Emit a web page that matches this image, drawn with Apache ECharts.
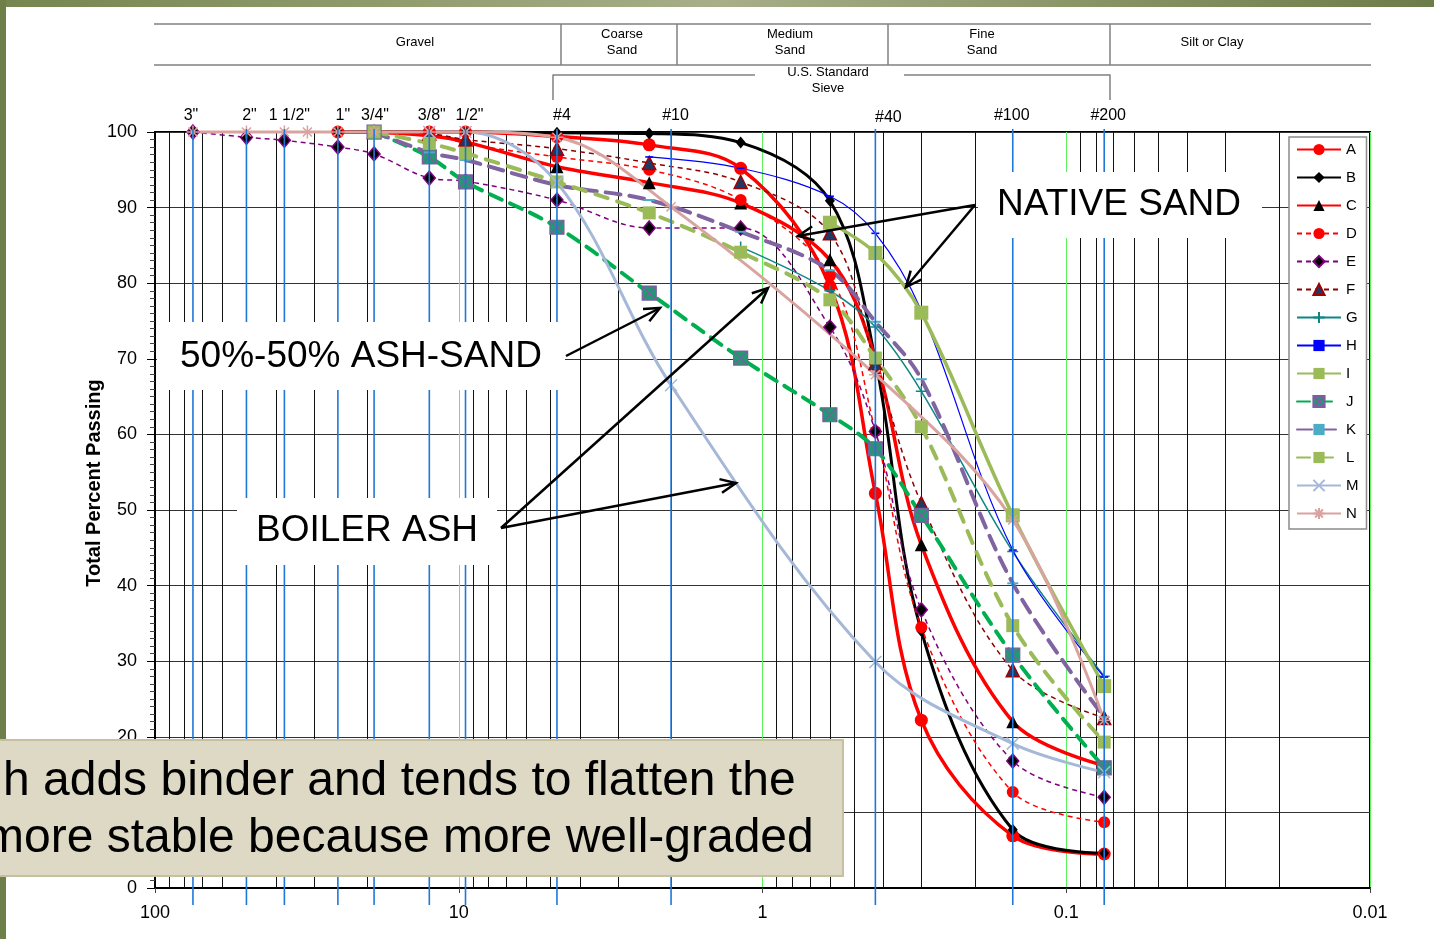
<!DOCTYPE html>
<html>
<head>
<meta charset="utf-8">
<script src="https://cdn.jsdelivr.net/npm/echarts@6/dist/echarts.min.js"></script>
<style>
  html, body { margin: 0; padding: 0; background: #fff; }
  #chart { width: 1434px; height: 939px; }
</style>
</head>
<body>
<div id="chart"></div>
<script>
const FONT = '"Liberation Sans", Arial, sans-serif';

// Sieve openings (mm) at which percent passing was measured
const sieveSizes = [75, 50, 37.5, 31.5, 25, 19, 12.5, 9.5, 4.75, 2.36, 2.0, 1.18, 0.6, 0.425, 0.3, 0.15, 0.075];

// Percent passing for each sample (null = not measured at that sieve)
const valuesA = [null, null, null, null, 100, 100, 100, 100, 99.4, 98.3, null, 95.2, 79.6, 52.2, 22.2, 6.9, 4.5];
const valuesB = [null, null, null, null, 100, 100, 100, 100, 99.9, 99.8, null, 98.6, 90.9, 69.8, 34.0, 7.7, 4.6];
const valuesC = [null, null, null, null, null, 100, 99.5, 98.7, 95.4, 93.3, null, 90.6, 83.1, 70.0, 45.4, 22.0, 16.2];
const valuesD = [null, null, null, null, null, null, 100, 98.5, 96.7, 95.0, null, 91.0, 81.0, 60.4, 34.5, 12.7, 8.7];
const valuesE = [100, 99.3, 98.9, null, 98.0, 97.1, 93.9, 93.5, 91.0, 87.3, null, 87.3, 74.2, 60.4, 36.8, 16.8, 12.0];
const valuesF = [null, null, null, null, null, 100, 99.8, 99.0, 97.8, 95.9, null, 93.4, 86.6, 69.4, 50.9, 28.8, 22.5];
const valuesG = [null, null, null, null, null, null, null, null, null, null, null, 84.8, 79.0, 74.2, 65.7, 44.5, 28.0];
const valuesH = [null, null, null, null, null, null, null, null, null, 96.7, null, 95.2, 91.5, 86.6, 76.4, 44.7, 27.9];
const valuesI = [null, null, null, null, null, null, null, null, null, null, null, null, 88.0, 84.0, 76.1, 49.3, 26.7];
const valuesJ = [null, null, null, null, null, 100, 96.7, 93.4, 87.4, 78.7, null, 70.1, 62.6, 58.1, 49.3, 30.8, 15.9];
const valuesK = [null, null, null, null, null, 100, 97.3, 96.3, 93.0, 91.0, null, 86.8, 81.7, 74.9, 67.3, 40.3, 22.6];
const valuesL = [null, null, null, null, null, 100, 98.5, 97.2, 93.4, 89.3, null, 84.1, 77.8, 70.1, 61.0, 34.7, 19.3];
const valuesM = [null, null, null, null, null, null, 100, 100, 93.3, null, 66.5, null, null, 29.9, null, 19.1, 15.3];
const valuesN = [100, 100, 100, 100, 100, 100, 100, 100, 99.3, null, 90.1, null, null, 67.9, null, 48.7, 22.2];

const seriesNames = ['A', 'B', 'C', 'D', 'E', 'F', 'G', 'H', 'I', 'J', 'K', 'L', 'M', 'N'];
const seriesValues = [valuesA, valuesB, valuesC, valuesD, valuesE, valuesF, valuesG,
                      valuesH, valuesI, valuesJ, valuesK, valuesL, valuesM, valuesN];

// Standard sieves drawn as vertical reference lines, labelled along the top
const standardSieveSizes = [75, 50, 37.5, 25, 19, 12.5, 9.5, 4.75, 2.0, 0.425, 0.15, 0.075];
const standardSieveLabels = ['3"', '2"', '1 1/2"', '1"', '3/4"', '3/8"', '1/2"', '#4', '#10', '#40', '#100', '#200'];

// Axis tick labels
const xTickLabels = ['100', '10', '1', '0.1', '0.01'];   // 10^2 .. 10^-2
const yAxisTitle = 'Total Percent Passing';

// Soil classification header
const bandLabels = [['Gravel'], ['Coarse', 'Sand'], ['Medium', 'Sand'], ['Fine', 'Sand'], ['Silt or Clay']];

// ---- marker shapes ----
const PLUS = 'path://M5,0L5,10M0,5L10,5';
const XMARK = 'path://M0,0L10,10M10,0L0,10';
const STAR = 'path://M5,0L5,10M0,5L10,5M1.5,1.5L8.5,8.5M8.5,1.5L1.5,8.5';
const BOXX = 'path://M0,0L10,0L10,10L0,10ZM0,0L10,10M10,0L0,10';
const DASH = 'path://M0,0L10,0L10,4L0,4Z';

const curveStyles = {
  A: { color: '#ff0000', width: 3.5, symbol: 'circle', size: 13, fill: '#ff0000' },
  B: { color: '#000000', width: 3, symbol: 'diamond', size: [10, 12], fill: '#000000' },
  C: { color: '#ff0000', width: 3.5, symbol: 'triangle', size: 13, fill: '#000000' },
  D: { color: '#ff0000', width: 1.5, dash: [5, 4], symbol: 'circle', size: 12, fill: '#ff0000' },
  E: { color: '#800080', width: 1.5, dash: [5, 4], symbol: 'diamond', size: [12, 14], fill: '#000000', border: '#800080', bw: 1.5 },
  F: { color: '#8b0000', width: 1.5, dash: [5, 4], symbol: 'triangle', size: 13, fill: '#1f3864', border: '#a00000', bw: 1.5 },
  G: { color: '#108585', width: 1.5, symbol: PLUS, size: 11, fill: '#108585', border: '#108585', bw: 1.5 },
  H: { color: '#0000ff', width: 1.2, symbol: DASH, size: [8, 4], fill: '#0000ff', keep: true },
  I: { color: '#9bbb59', width: 3.5, symbol: 'rect', size: 14, fill: '#9bbb59' },
  J: { color: '#00b050', width: 4, dash: [13, 9], symbol: BOXX, size: 14, fill: '#1f9a72', border: '#7a5ea0', bw: 1.2 },
  K: { color: '#8064a2', width: 4, dash: [15, 9], symbol: DASH, size: [11, 5], fill: '#4bacc6', keep: true },
  L: { color: '#9bbb59', width: 4, dash: [13, 10], symbol: 'rect', size: 13, fill: '#9bbb59' },
  M: { color: '#a5b8d8', width: 3, symbol: XMARK, size: 12, fill: '#a5b8d8', border: '#a5b8d8', bw: 1.5 },
  N: { color: '#d9a3a0', width: 3, symbol: STAR, size: 13, fill: '#d9a3a0', border: '#d9a3a0', bw: 1.5 }
};

// ---- log-grid helper values (2..9 within each decade) ----
const minorGridValues = [];
[10, 1, 0.1, 0.01].forEach(d => { for (let k = 2; k <= 9; k++) minorGridValues.push(k * d); });

function crisp(v) { return Math.round(v) + 0.5; }

const curveSeries = seriesNames.map((name, i) => {
  const st = curveStyles[name];
  const data = [];
  sieveSizes.forEach((s, j) => { if (seriesValues[i][j] !== null) data.push([s, seriesValues[i][j]]); });
  return {
    name, type: 'line', data, z: 3, clip: false, smooth: 0.35, silent: true,
    symbol: st.symbol, symbolSize: st.size, showAllSymbol: true, symbolKeepAspect: !!st.keep,
    lineStyle: { color: st.color, width: st.width, type: st.dash || 'solid', cap: st.dash && st.width > 3 ? 'round' : 'butt' },
    itemStyle: { color: st.fill, borderColor: st.border || st.fill, borderWidth: st.bw || 0, opacity: 1 },
    emphasis: { disabled: true }
  };
});

const minorGridSeries = {
  type: 'custom', z: 1, silent: true, clip: false,
  data: minorGridValues.map(v => [v, 0]),
  renderItem(params, api) {
    const x = crisp(api.coord([api.value(0), 0])[0]);
    const y1 = api.coord([api.value(0), 100])[1];
    const y2 = api.coord([api.value(0), 0])[1];
    return { type: 'line', shape: { x1: x, y1, x2: x, y2 }, style: { stroke: '#111', lineWidth: 1 } };
  }
};

// horizontal nudge of each sieve caption relative to its line
const sieveLabelShift = { '3"': -2, '2"': 3, '1 1/2"': 5, '1"': 5, '3/4"': 1, '3/8"': 2.5, '1/2"': 4,
                          '#4': 5, '#10': 4.5, '#40': 13, '#100': -1, '#200': 4 };
const sieveSeries = {
  type: 'custom', z: 5, silent: true, clip: false,
  data: standardSieveSizes.map(v => [v, 0]),
  renderItem(params, api) {
    const x = api.coord([api.value(0), 0])[0];
    const top = api.coord([api.value(0), 100])[1];
    const bottom = api.coord([api.value(0), 0])[1];
    const label = standardSieveLabels[params.dataIndex];
    return {
      type: 'group',
      children: [
        { type: 'line', shape: { x1: x, y1: top - 3, x2: x, y2: bottom + 17 }, style: { stroke: '#1f78d8', lineWidth: 1.6 } },
        { type: 'text', x: x + sieveLabelShift[label], y: top - 16 + (label === '#40' ? 2 : 0),
          style: { text: label, font: '16px ' + FONT, fill: '#000', textAlign: 'center', textVerticalAlign: 'middle' } }
      ]
    };
  }
};

const chart = echarts.init(document.getElementById('chart'), null, { renderer: 'canvas' });

function textEl(text, x, y, font, align, extra) {
  return Object.assign({
    type: 'text', x, y, z: 60,
    style: { text, font: font + ' ' + FONT, fill: '#000', textAlign: align || 'center', textVerticalAlign: 'middle' }
  }, extra || {});
}
function lineEl(x1, y1, x2, y2, color, w, z) {
  return { type: 'line', z: z || 60, shape: { x1, y1, x2, y2 }, style: { stroke: color, lineWidth: w } };
}
function arrowEls(x1, y1, x2, y2) {
  const ang = Math.atan2(y2 - y1, x2 - x1);
  const len = 17, spread = 0.42;
  const a1 = [x2 - len * Math.cos(ang - spread), y2 - len * Math.sin(ang - spread)];
  const a2 = [x2 - len * Math.cos(ang + spread), y2 - len * Math.sin(ang + spread)];
  return [
    { type: 'polyline', z: 70, shape: { points: [[x1, y1], [x2, y2]] }, style: { stroke: '#000', lineWidth: 2.5, fill: null } },
    { type: 'polyline', z: 70, shape: { points: [a1, [x2, y2], a2] }, style: { stroke: '#000', lineWidth: 2.5, fill: null } }
  ];
}

// Header: classification bands and the sieve bracket
const headerEls = [
  lineEl(154, 24, 1371, 24, '#808080', 1.5),
  lineEl(154, 65, 1371, 65, '#808080', 1.5),
  lineEl(561, 24, 561, 65, '#808080', 1.5),
  lineEl(677, 24, 677, 65, '#808080', 1.5),
  lineEl(888, 24, 888, 65, '#808080', 1.5),
  lineEl(1110, 24, 1110, 65, '#808080', 1.5),
  lineEl(553, 75, 755, 75, '#808080', 1.5),
  lineEl(904, 75, 1110, 75, '#808080', 1.5),
  lineEl(553, 74.5, 553, 100, '#808080', 1.5),
  lineEl(1110, 74.5, 1110, 100, '#808080', 1.5),
  textEl('U.S. Standard', 828, 72, '13px'),
  textEl('Sieve', 828, 88, '13px')
];
const bandCenters = [415, 622, 790, 982, 1212];
bandLabels.forEach((lines, i) => {
  if (lines.length === 1) headerEls.push(textEl(lines[0], bandCenters[i], 42, '13px'));
  else {
    headerEls.push(textEl(lines[0], bandCenters[i], 34, '13px'));
    headerEls.push(textEl(lines[1], bandCenters[i], 50, '13px'));
  }
});

const annotationEls = [
  { type: 'rect', z: 65, shape: { x: 978, y: 172, width: 284, height: 66 }, style: { fill: '#fff' } },
  textEl('NATIVE SAND', 1119, 205, '37px', 'center', { z: 66 }),
  { type: 'rect', z: 65, shape: { x: 157, y: 322, width: 408, height: 68 }, style: { fill: '#fff' } },
  textEl('50%-50% ASH-SAND', 180, 357, '37px', 'left', { z: 66 }),
  { type: 'rect', z: 65, shape: { x: 237, y: 498, width: 260, height: 67 }, style: { fill: '#fff' } },
  textEl('BOILER ASH', 367, 531, '37px', 'center', { z: 66 }),
  ...arrowEls(975, 205, 798, 236),
  ...arrowEls(975, 205, 906, 287),
  ...arrowEls(566, 356, 660, 308),
  ...arrowEls(501, 528, 768, 288),
  ...arrowEls(501, 528, 736, 483)
];

const slideEls = [
  { type: 'rect', z: 78, shape: { x: 0, y: 0, width: 1434, height: 7 },
    style: { fill: new echarts.graphic.LinearGradient(0, 0, 1, 0, [
      { offset: 0, color: '#76864f' }, { offset: 0.5, color: '#a7ae88' }, { offset: 1, color: '#6d7c48' }]) } },
  { type: 'rect', z: 78, shape: { x: 0, y: 0, width: 6, height: 939 }, style: { fill: '#6e7f49' } },
  { type: 'rect', z: 80, shape: { x: -4, y: 740, width: 847, height: 136 },
    style: { fill: '#ddd9c4', stroke: '#c6c0a0', lineWidth: 2 } },
  { type: 'text', z: 81, x: 3, y: 782,
    style: { text: 'h adds binder and tends to flatten the', font: '48px ' + FONT, fill: '#000', textAlign: 'left', textVerticalAlign: 'middle' } },
  { type: 'text', z: 81, x: -16, y: 839,
    style: { text: 'more stable because more well-graded', font: '48px ' + FONT, fill: '#000', textAlign: 'left', textVerticalAlign: 'middle' } }
];

const option = {
  animation: false,
  backgroundColor: '#ffffff',
  textStyle: { fontFamily: FONT },
  grid: { left: 155, right: 64, top: 132, bottom: 51, show: true, borderColor: '#000', borderWidth: 2, backgroundColor: 'transparent' },
  legend: {
    data: seriesNames, orient: 'vertical', left: 1289, top: 137,
    itemWidth: 44, itemHeight: 14, itemGap: 13,
    padding: [5, 8, 8, 7],
    backgroundColor: '#fff', borderColor: '#8c8c8c', borderWidth: 1.5,
    textStyle: { fontSize: 15, color: '#000', fontFamily: FONT, lineHeight: 14 },
    selectedMode: false, z: 20
  },
  xAxis: {
    type: 'log', logBase: 10, min: 0.01, max: 100, inverse: true,
    axisLine: { show: true, lineStyle: { color: '#000', width: 2 } },
    axisTick: { show: true, length: 5, lineStyle: { color: '#444' } },
    axisLabel: {
      fontSize: 18, color: '#000', fontFamily: FONT, margin: 16,
      formatter: v => xTickLabels[2 - Math.round(Math.log10(v))]
    },
    splitLine: { show: true, lineStyle: { color: '#5cf05c', width: 1 } }
  },
  yAxis: {
    type: 'value', min: 0, max: 100, interval: 10,
    axisLine: { show: true, lineStyle: { color: '#000', width: 2 } },
    axisTick: { show: true, length: 8, lineStyle: { color: '#000' } },
    minorTick: { show: true, splitNumber: 10, length: 5, lineStyle: { color: '#444' } },
    axisLabel: { fontSize: 18, color: '#000', fontFamily: FONT, margin: 18 },
    splitLine: { show: true, lineStyle: { color: '#333', width: 1 } }
  },
  graphic: [
    ...headerEls,
    ...annotationEls,
    ...slideEls,
    { type: 'text', z: 60, x: 94, y: 483, rotation: Math.PI / 2,
      style: { text: yAxisTitle, font: 'bold 20px ' + FONT, fill: '#000', textAlign: 'center', textVerticalAlign: 'middle' } }
  ],
  series: [minorGridSeries, ...curveSeries, sieveSeries]
};

chart.setOption(option);
</script>
</body>
</html>
